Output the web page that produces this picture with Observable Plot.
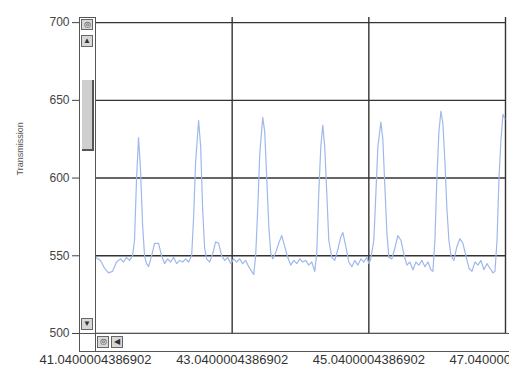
<!DOCTYPE html>
<html>
<head>
<meta charset="utf-8">
<script src="https://cdn.jsdelivr.net/npm/d3@7"></script>
<script src="https://cdn.jsdelivr.net/npm/@observablehq/plot@0.6"></script>
<style>
  html, body { margin: 0; padding: 0; background: #fff; }
  #wrap { position: relative; width: 509px; height: 371px; overflow: hidden; font-family: "Liberation Sans", Arial, sans-serif; }
  #wrap svg { position: absolute; left: 0; top: 0; }
  .sb { position: absolute; box-sizing: border-box; background: #fff; border: 1px solid #555; }
  .btn { position: absolute; box-sizing: border-box; background: #d8d8d8; border: 1px solid #666; font-size: 8px; line-height: 10px; text-align: center; color: #333; }
  .thumb { position: absolute; box-sizing: border-box; background: #cfcfcf; border-right: 2px solid #555; border-bottom: 2px solid #555; }
</style>
</head>
<body>
<div id="wrap"></div>
<script>
// Time axis (x) and Transmission values (y)
const time = [
  41.040, 41.113, 41.172, 41.230, 41.289, 41.348, 41.406, 41.450, 41.494, 41.538,
  41.582, 41.611, 41.641, 41.670, 41.699, 41.729, 41.758, 41.787, 41.817, 41.861,
  41.904, 41.963, 42.007, 42.051, 42.095, 42.139, 42.183, 42.227, 42.271, 42.315,
  42.359, 42.403, 42.447, 42.476, 42.505, 42.549, 42.579, 42.608, 42.637, 42.666,
  42.710, 42.754, 42.798, 42.842, 42.886, 42.930, 42.974, 43.018, 43.062, 43.106,
  43.150, 43.194, 43.238, 43.282, 43.326, 43.355, 43.384, 43.414, 43.443, 43.487,
  43.516, 43.546, 43.575, 43.604, 43.633, 43.677, 43.721, 43.765, 43.809, 43.853,
  43.897, 43.941, 43.985, 44.029, 44.073, 44.117, 44.161, 44.205, 44.249, 44.278,
  44.307, 44.337, 44.366, 44.395, 44.425, 44.454, 44.498, 44.542, 44.586, 44.630,
  44.659, 44.703, 44.747, 44.791, 44.835, 44.879, 44.923, 44.967, 45.011, 45.040,
  45.069, 45.113, 45.143, 45.172, 45.216, 45.245, 45.274, 45.304, 45.333, 45.377,
  45.421, 45.465, 45.509, 45.553, 45.597, 45.641, 45.685, 45.729, 45.773, 45.817,
  45.861, 45.905, 45.948, 45.978, 46.007, 46.036, 46.066, 46.095, 46.124, 46.154,
  46.183, 46.212, 46.242, 46.285, 46.329, 46.373, 46.417, 46.461, 46.505, 46.549,
  46.593, 46.637, 46.681, 46.725, 46.769, 46.813, 46.857, 46.886, 46.916, 46.945,
  46.974, 47.003, 47.033
];
const transmission = [
  549, 547, 542, 539, 540, 546, 548, 546, 549, 547,
  550, 560, 600, 626, 605, 570, 550, 545, 543, 550,
  558, 558, 550, 545, 548, 546, 549, 545, 547, 546,
  548, 546, 550, 575, 610, 637, 620, 580, 555, 548,
  546, 551, 559, 558, 550, 547, 549, 545, 548, 546,
  548, 545, 547, 543, 540, 538, 550, 580, 615, 639,
  630, 600, 570, 552, 548, 552, 558, 563, 556, 549,
  544, 547, 545, 548, 546, 547, 544, 546, 540, 552,
  590, 620, 634, 620, 590, 560, 549, 547, 554, 562,
  565, 556, 546, 543, 547, 544, 548, 546, 549, 545,
  548, 560, 590, 620, 636, 625, 595, 565, 549, 548,
  555, 563, 560, 551, 544, 546, 541, 546, 544, 547,
  543, 546, 541, 540, 560, 600, 630, 643, 635, 610,
  580, 560, 550, 547, 556, 561, 558, 550, 542, 540,
  546, 544, 547, 541, 545, 542, 539, 540, 560, 600,
  625, 641, 638
];
const yTicks = [500, 550, 600, 650, 700];
const xTicks = [41.0400004386902, 43.0400004386902, 45.0400004386902, 47.0400004386902];
const xTickLabels = ["41.0400004386902", "43.0400004386902", "45.0400004386902", "47.0400004386902"];

const data = time.map((t, i) => ({time: t, value: transmission[i]}));

const chart = Plot.plot({
  width: 509,
  height: 371,
  marginLeft: 95,
  marginRight: 4,
  marginTop: 17,
  marginBottom: 38,
  style: {fontFamily: "'Liberation Sans', Arial, sans-serif", background: "transparent", color: "#444"},
  x: {domain: [41.04, 47.04], label: null},
  y: {domain: [500, 703.3], label: null},
  marks: [
    Plot.gridY(yTicks, {stroke: "#333", strokeOpacity: 1, strokeWidth: 1.4}),
    Plot.gridX(xTicks.slice(1), {stroke: "#333", strokeOpacity: 1, strokeWidth: 1.4}),
    Plot.line(data, {x: "time", y: "value", stroke: "#9fb8ec", strokeWidth: 1.2}),
    Plot.axisY(yTicks, {tickSize: 23, tickPadding: 3, fontSize: 12, stroke: "#444", fill: "#444", label: null}),
    Plot.axisX(xTicks, {tickSize: 18, tickPadding: 3, fontSize: 13, stroke: "#444", fill: "#333", label: null,
      tickFormat: (d, i) => xTickLabels[i]}),
    Plot.text(["Transmission"], {frameAnchor: "left", dx: -75, rotate: -90, fontSize: 9, fill: "#555"})
  ]
});
const wrap = document.getElementById("wrap");
wrap.appendChild(chart);

// Scrollbar decorations (UI chrome of the original screenshot)
function box(cls, l, t, w, h, txt) {
  const d = document.createElement("div");
  d.className = cls;
  d.style.left = l + "px"; d.style.top = t + "px";
  d.style.width = w + "px"; d.style.height = h + "px";
  if (txt) d.textContent = txt;
  wrap.appendChild(d);
  return d;
}
box("sb", 79, 17, 17, 317);
box("btn", 81, 19, 12, 11, "◎");
box("btn", 81, 35, 12, 12, "▲");
box("thumb", 82, 80, 12, 71);
box("btn", 81, 318, 12, 12, "▼");
box("sb", 79, 333, 440, 19);
box("sb", 79, 333, 17, 19);
box("btn", 97, 336, 12, 12, "◎");
box("btn", 111, 336, 12, 12, "◀");
</script>
</body>
</html>
